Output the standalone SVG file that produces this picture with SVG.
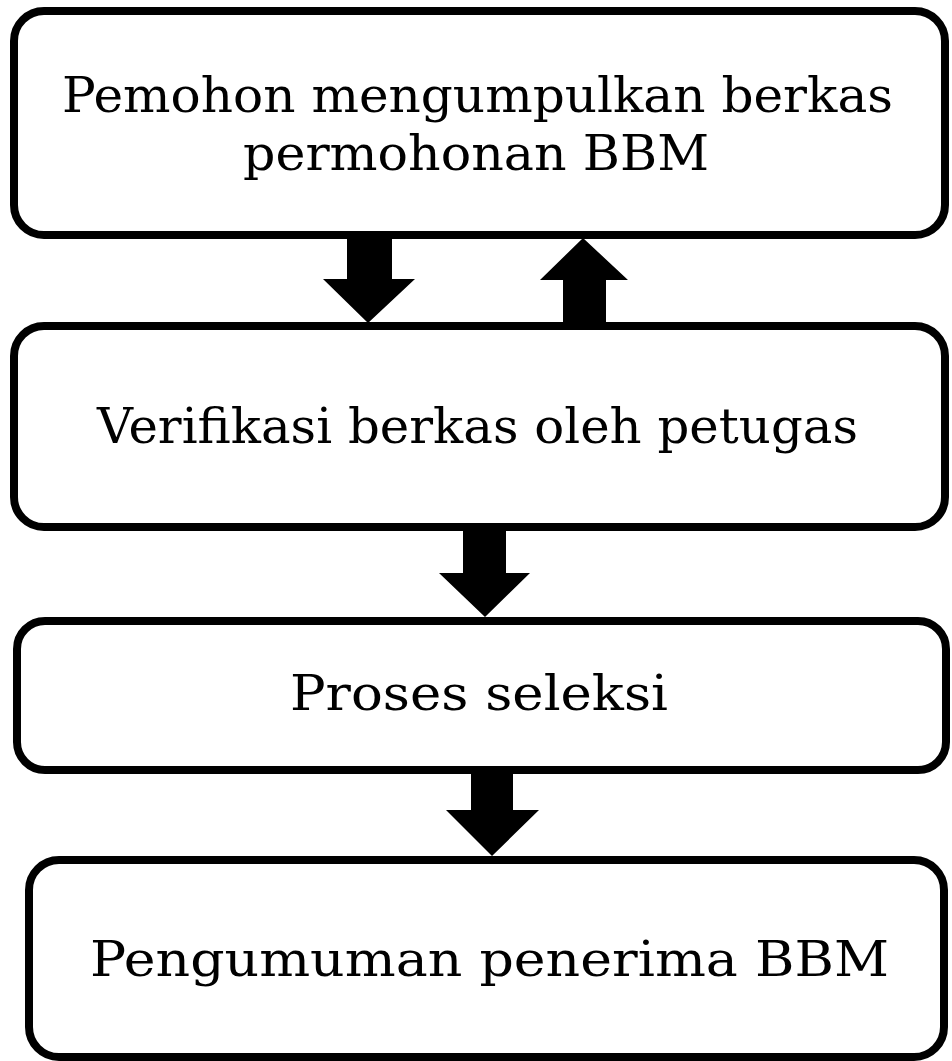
<svg xmlns="http://www.w3.org/2000/svg" width="952" height="1061" viewBox="0 0 952 1061">
<style>
.box{fill:#fff;stroke:#000;stroke-width:8}
.t{font-family:"DejaVu Serif","Liberation Serif",serif;font-size:49px;fill:#000;text-anchor:middle}
.arr{fill:#000;stroke:none}
</style>
<rect width="952" height="1061" fill="#fff"/>
<g id="node1">
<rect class="box" x="14" y="11" width="931" height="224" rx="30"/>
<text class="t" x="477.5" y="112" textLength="831" lengthAdjust="spacingAndGlyphs">Pemohon mengumpulkan berkas</text>
<text class="t" x="476" y="170" textLength="466" lengthAdjust="spacingAndGlyphs">permohonan BBM</text>
</g>
<g id="node2">
<rect class="box" x="14" y="326" width="931" height="201" rx="30"/>
<text class="t" x="477.5" y="443" textLength="761" lengthAdjust="spacingAndGlyphs">Verifikasi berkas oleh petugas</text>
</g>
<g id="node3">
<rect class="box" x="17" y="621" width="929" height="149" rx="28"/>
<text class="t" x="479" y="710" textLength="378" lengthAdjust="spacingAndGlyphs">Proses seleksi</text>
</g>
<g id="node4">
<rect class="box" x="29" y="860" width="915" height="197" rx="30"/>
<text class="t" x="489.5" y="976" textLength="799" lengthAdjust="spacingAndGlyphs">Pengumuman penerima BBM</text>
</g>
<g id="connectors">
<polygon class="arr" points="347,239 392,239 392,279 415,279 368,323 323,279 347,279"/>
<polygon class="arr" points="563,323 606,323 606,280 628,280 583,238 540,280 563,280"/>
<polygon class="arr" points="463,531 506,531 506,573 530,573 485,617 439,573 463,573"/>
<polygon class="arr" points="471,774 513,774 513,810 539,810 492,856 446,810 471,810"/>
</g>
</svg>
